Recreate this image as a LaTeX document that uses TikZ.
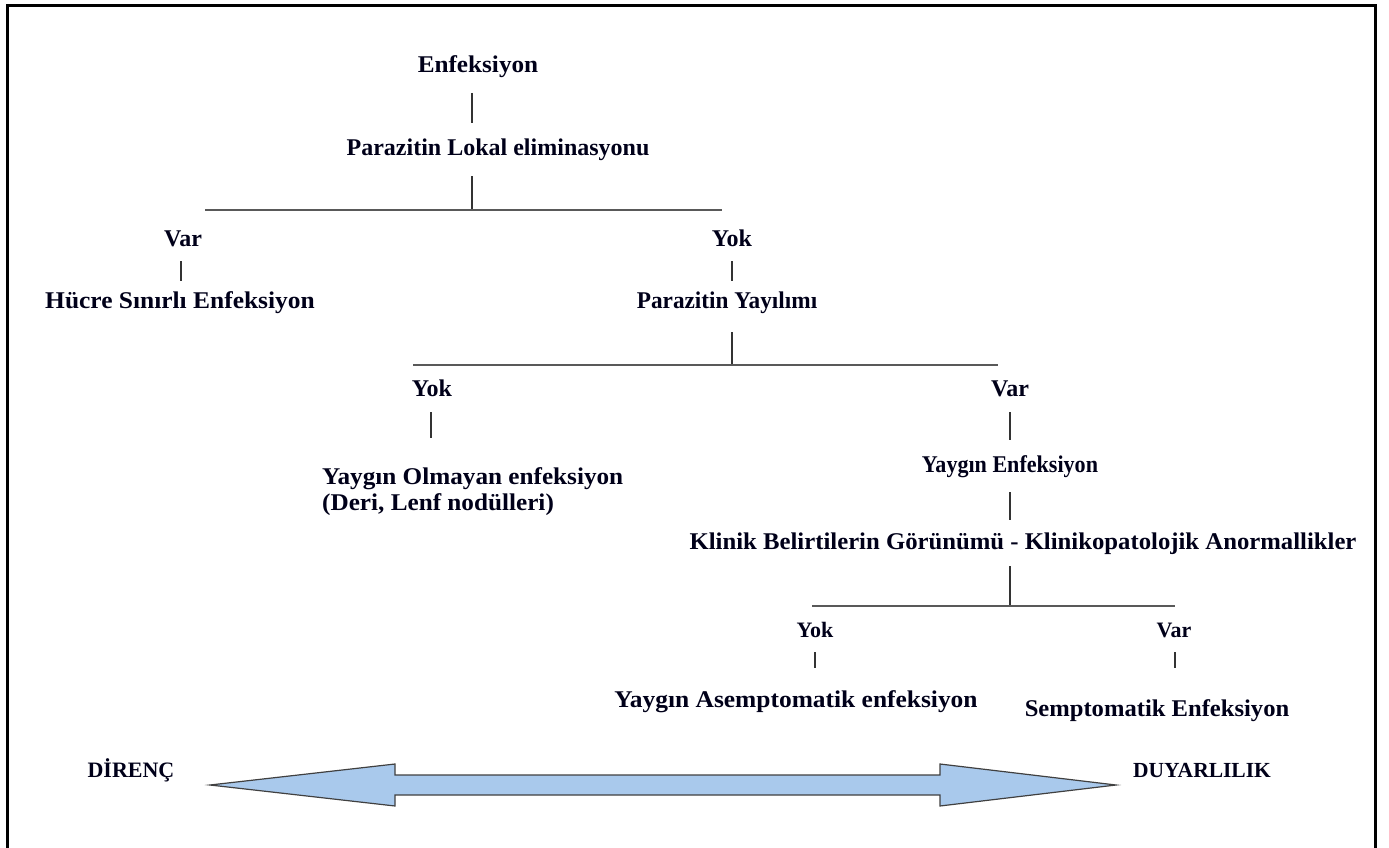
\documentclass[tikz,border=0pt]{standalone}
\usepackage{fontspec}
\setmainfont{Liberation Serif}
\newcommand{\sx}[2]{\scalebox{#1}[1]{#2}}
\begin{document}
\begin{tikzpicture}[x=1pt,y=-1pt,
  lbl/.style={font=\fontsize{24}{26}\selectfont\bfseries, inner sep=0pt, anchor=base, text=black!90!blue},
  small/.style={font=\fontsize{22}{24}\selectfont\bfseries, inner sep=0pt, anchor=base, text=black!90!blue},
  vline/.style={line width=1.4pt, draw=black!80},
  hline/.style={line width=2pt, draw=black!65},
  frame/.style={line width=3pt, draw=black}]
\useasboundingbox (0,0) rectangle (1389,848);
\draw[frame] (7,848) -- (7,6) -- (1375,6) -- (1375,848);

% texts
\node[lbl] (enf) at (478,73) {\sx{1.05}{Enfeksiyon}};
\node[lbl] (plok) at (498,155) {Parazitin Lokal eliminasyonu};
\node[lbl] (var1) at (183,246) {Var};
\node[lbl] (hucre) at (180,308) {\sx{1.06}{Hücre Sınırlı Enfeksiyon}};
\node[lbl] (yok1) at (732,246) {Yok};
\node[lbl] (pyay) at (727,308) {\sx{0.97}{Parazitin Yayılımı}};
\node[lbl] (yok2) at (432,396) {Yok};
\node[lbl, anchor=north west] (yolm) at (322,466) {\sx{1.05}{\begin{tabular}{@{}l@{}}Yaygın Olmayan enfeksiyon\\(Deri, Lenf nodülleri)\end{tabular}}};
\node[lbl] (var2) at (1010,396) {Var};
\node[lbl] (yenf) at (1010,472) {\sx{0.92}{Yaygın Enfeksiyon}};
\node[lbl] (klin) at (1023,549) {\sx{1.03}{Klinik Belirtilerin Görünümü - Klinikopatolojik Anormallikler}};
\node[small] (yok3) at (815,637) {Yok};
\node[small] (var3) at (1174,637) {Var};
\node[lbl] (asem) at (796,707) {\sx{1.06}{Yaygın Asemptomatik enfeksiyon}};
\node[lbl] (semp) at (1157,716) {\sx{1.025}{Semptomatik Enfeksiyon}};
\node[small] (dir) at (131,777) {DİRENÇ};
\node[small, font=\fontsize{21.5}{24}\selectfont\bfseries] (duy) at (1202,777) {DUYARLILIK};

% connector coordinates
\coordinate (a1) at (472,93);  \coordinate (a2) at (472,123);
\coordinate (b1) at (472,176); \coordinate (b2) at (472,210);
\coordinate (h1l) at (205,210); \coordinate (h1r) at (722,210);
\coordinate (c1) at (181,261); \coordinate (c2) at (181,281);
\coordinate (d1) at (732,261); \coordinate (d2) at (732,281);
\coordinate (e1) at (732,332); \coordinate (e2) at (732,365);
\coordinate (h2l) at (413,365); \coordinate (h2r) at (998,365);
\coordinate (f1) at (431,412); \coordinate (f2) at (431,438);
\coordinate (g1) at (1010,412); \coordinate (g2) at (1010,440);
\coordinate (i1) at (1010,492); \coordinate (i2) at (1010,520);
\coordinate (j1) at (1010,566); \coordinate (j2) at (1010,606);
\coordinate (h3l) at (812,606); \coordinate (h3r) at (1175,606);
\coordinate (k1) at (815,652); \coordinate (k2) at (815,668);
\coordinate (m1) at (1175,652); \coordinate (m2) at (1175,668);

\draw[vline] (a1) -- (a2);
\draw[vline] (b1) -- (b2);
\draw[hline] (h1l) -- (h1r);
\draw[vline] (c1) -- (c2);
\draw[vline] (d1) -- (d2);
\draw[vline] (e1) -- (e2);
\draw[hline] (h2l) -- (h2r);
\draw[vline] (f1) -- (f2);
\draw[vline] (g1) -- (g2);
\draw[vline] (i1) -- (i2);
\draw[vline] (j1) -- (j2);
\draw[hline] (h3l) -- (h3r);
\draw[vline] (k1) -- (k2);
\draw[vline] (m1) -- (m2);

% double arrow
\definecolor{arrfill}{HTML}{A9C9EC}
\draw[fill=arrfill, draw=black!75, line width=1.2pt, line join=miter]
  (210,785) -- (395,764) -- (395,775) -- (940,775) -- (940,764) -- (1116,785)
  -- (940,806) -- (940,795) -- (395,795) -- (395,806) -- cycle;
\end{tikzpicture}
\end{document}
